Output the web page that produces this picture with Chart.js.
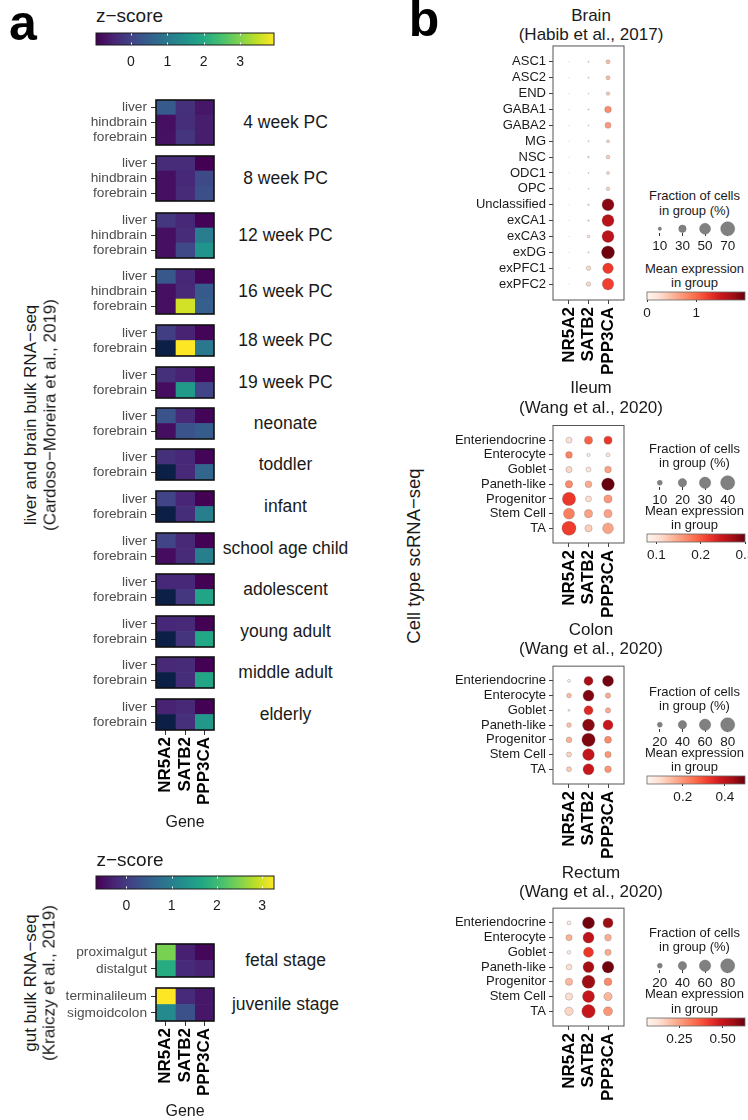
<!DOCTYPE html>
<html><head><meta charset="utf-8">
<script src="https://cdn.jsdelivr.net/npm/chart.js@4.4.1/dist/chart.umd.min.js"></script>
<style>
html,body{margin:0;padding:0;background:#fff;}
body{width:748px;height:1120px;position:relative;overflow:hidden;font-family:"Liberation Sans",Arial,Helvetica,sans-serif;}
</style></head><body>
<script>
// ---------------- DATA ----------------
const genes = ['NR5A2','SATB2','PPP3CA'];
const zTicks = [0,1,2,3];
const stages = ['4 week PC','8 week PC','12 week PC','16 week PC','18 week PC','19 week PC','neonate','toddler','infant','school age child','adolescent','young adult','middle adult','elderly'];
const rows3 = ['liver','hindbrain','forebrain'];
const rows2 = ['liver','forebrain'];
// z-scores: rows x genes (NR5A2, SATB2, PPP3CA); null = not detected
const z_4wk      = [[0.41,-0.28,-0.67],[-0.76,-0.32,-0.57],[-0.74,-0.23,-0.57]];
const z_8wk      = [[-0.35,-0.35,-0.96],[-0.76,-0.42,0.12],[-0.76,-0.37,0.21]];
const z_12wk     = [[-0.2,-0.42,-0.93],[-0.76,-0.35,1.1],[-0.76,0.1,1.55]];
const z_16wk     = [[0.38,-0.42,-0.9],[-0.76,-0.4,0.41],[-0.76,3.6,0.5]];
const z_18wk     = [[-0.08,-0.48,-0.9],[null,3.93,1.0]];
const z_19wk     = [[-0.28,-0.48,-0.92],[-0.8,1.68,0.02]];
const z_neonate  = [[0.31,-0.4,-0.9],[-0.78,0.31,0.45]];
const z_toddler  = [[-0.28,-0.42,-0.92],[null,-0.4,0.65]];
const z_infant   = [[0.02,-0.45,-0.94],[null,-0.33,1.14]];
const z_school   = [[0.02,-0.4,-0.94],[-0.8,-0.38,1.14]];
const z_adolesc  = [[-0.42,-0.42,-0.94],[null,-0.2,1.88]];
const z_young    = [[-0.42,-0.4,-0.94],[null,-0.22,1.97]];
const z_middle   = [[-0.4,-0.38,-0.94],[null,-0.33,1.93]];
const z_elderly  = [[-0.48,-0.4,-0.94],[null,-0.3,1.63]];
const zRange = [-0.96, 3.93];

const gutStages = ['fetal stage','juvenile stage'];
const gutRowsFetal = ['proximalgut','distalgut'];
const gutRowsJuv = ['terminalileum','sigmoidcolon'];
const z_fetal = [[2.47,-0.32,-0.6],[1.75,-0.2,-0.3]];
const z_juv   = [[3.26,-0.2,-0.43],[1.18,0.3,-0.43]];
const zGutRange = [-0.67, 3.26];

// scRNA-seq dot plots: [gene][cell type]
const brainCells = ['ASC1','ASC2','END','GABA1','GABA2','MG','NSC','ODC1','OPC','Unclassified','exCA1','exCA3','exDG','exPFC1','exPFC2'];
const brainFrac = [
  [0.4,0.4,0.4,0.6,0.4,0.4,0.4,0.4,0.4,0.4,0.4,0.4,0.4,0.4,0.4],
  [2.5,2.5,1.5,2.5,2,2.5,4,2,2,4,3.5,8,3,15,15],
  [13,13,11,26,22.6,9,11.5,9,11,57,57,57,63,48,54]];
const brainExpr = [
  [0.02,0.02,0.02,0.02,0.02,0.02,0.02,0.02,0.02,0.02,0.02,0.02,0.02,0.02,0.02],
  [0.05,0.05,0.03,0.05,0.04,0.05,0.1,0.04,0.04,0.08,0.08,0.2,0.06,0.3,0.3],
  [0.5,0.5,0.38,0.78,0.7,0.3,0.38,0.3,0.35,1.85,1.62,1.6,1.96,1.25,1.22]];
const brainSizeTicks = [10,30,50,70];
const brainExprRange = [0, 1.99];
const brainExprTicks = [0, 1];

const gutCells = ['Enteriendocrine','Enterocyte','Goblet','Paneth-like','Progenitor','Stem Cell','TA'];
const ileumFrac = [
  [12.9,15.0,13.8,16.8,37.4,29,40],
  [19,5.8,10.1,15.0,12.9,19,16.8],
  [19,7.5,15.0,35.1,19,19,28]];
const ileumExpr = [
  [0.105,0.172,0.114,0.167,0.22,0.176,0.216],
  [0.194,0.09,0.1,0.145,0.108,0.152,0.121],
  [0.22,0.1,0.152,0.3,0.158,0.152,0.15]];
const ileumSizeTicks = [10,20,30,40];
const ileumExprRange = [0.079, 0.3];
const ileumExprTicks = [0.1,0.2,0.3];

const colonFrac = [
  [10.3,18.7,6,18.7,24.1,20.2,20.2],
  [44.4,58,44.4,65,74.7,63,58],
  [58,21.9,21.9,51,31.7,27.6,30]];
const colonExpr = [
  [0.04,0.147,0.053,0.137,0.156,0.11,0.123],
  [0.438,0.473,0.352,0.463,0.473,0.393,0.384],
  [0.487,0.17,0.17,0.384,0.216,0.198,0.2]];
const colonSizeTicks = [20,40,60,80];
const colonExprRange = [0.03, 0.496];
const colonExprTicks = [0.2,0.4];

const rectumFrac = [
  [15,27.6,13.5,24.1,33.6,33.6,39.9],
  [65,58,51,58,72.5,65,74.7],
  [51,30,27.6,63,36,39.9,44.4]];
const rectumExpr = [
  [0.096,0.22,0.096,0.13,0.21,0.136,0.153],
  [0.62,0.516,0.425,0.556,0.567,0.5,0.5],
  [0.568,0.227,0.23,0.62,0.29,0.215,0.266]];
const rectumSizeTicks = [20,40,60,80];
const rectumExprRange = [0.062, 0.63];
const rectumExprTicks = [0.25,0.5];
const rectumExprLabels = ['0.25','0.50'];

// ---------------- COLOUR MAPS ----------------
const viridis = ['#440154','#482475','#414487','#355f8d','#2a788e','#21918c','#22a884','#44bf70','#7ad151','#bddf26','#fde725'];
const reds = ['#fff5f0','#fee0d2','#fcbba1','#fc9272','#fb6a4a','#ef3b2c','#cb181d','#a50f15','#67000d'];
const naColor = '#0c1f47';
function hx(h){return [parseInt(h.substr(1,2),16),parseInt(h.substr(3,2),16),parseInt(h.substr(5,2),16)];}
function cmap(stops,t){
  t=Math.max(0,Math.min(1,t)); const n=stops.length-1; const p=t*n; const i=Math.min(Math.floor(p),n-1); const f=p-i;
  const a=hx(stops[i]), b=hx(stops[i+1]);
  return 'rgb('+a.map((v,k)=>Math.round(v+(b[k]-v)*f)).join(',')+')';
}
function zColor(v,r){ return v===null ? naColor : cmap(viridis,(v-r[0])/(r[1]-r[0])); }
function dotR(f,fmax){ return 7*Math.pow(f/fmax,0.75); }

// ---------------- HELPERS ----------------
Chart.defaults.font.family='"Liberation Sans", Arial, Helvetica, sans-serif';
Chart.defaults.color='#1a1a1a';
const boxPlugin={id:'box',afterDatasetsDraw(chart,args,o){ if(!o||!o.color)return; const a=chart.chartArea,c=chart.ctx; c.save(); c.strokeStyle=o.color; c.lineWidth=o.width; c.strokeRect(a.left,a.top,a.right-a.left,a.bottom-a.top); c.restore(); }};
const gradPlugin={id:'grad',beforeDatasetsDraw(chart,args,o){ if(!o||!o.stops)return; const a=chart.chartArea,c=chart.ctx; c.save();
  const g=c.createLinearGradient(a.left,0,a.right,0); o.stops.forEach((s,i)=>g.addColorStop(i/(o.stops.length-1),s));
  c.fillStyle=g; c.fillRect(a.left,a.top,a.right-a.left,a.bottom-a.top);
  if(o.white){ c.strokeStyle='#fff'; c.lineWidth=1; chart.scales.x.ticks.forEach(t=>{ const x=Math.round(chart.scales.x.getPixelForValue(t.value))+0.5; c.beginPath(); c.moveTo(x,a.top); c.lineTo(x,a.top+2.5); c.moveTo(x,a.bottom); c.lineTo(x,a.bottom-2.5); c.stroke(); }); }
  if(o.border){ c.strokeStyle=o.border; c.lineWidth=o.bw||1; c.strokeRect(a.left,a.top,a.right-a.left,a.bottom-a.top); }
  c.restore(); }};
Chart.register(boxPlugin,gradPlugin);

function place(l,t,w,h){ const c=document.createElement('canvas'); c.width=w; c.height=h; c.style.cssText=`position:absolute;left:${l}px;top:${t}px;width:${w}px;height:${h}px;`; document.body.appendChild(c); return c; }
function txt(s,x,y,size,o={}){
  const d=document.createElement('div'); d.textContent=s;
  const al=o.align||'center';
  let tr = al==='center'?'translate(-50%,-50%)':(al==='left'?'translate(0,-50%)':'translate(-100%,-50%)');
  if(o.rot) tr+=' rotate(-90deg)';
  d.style.cssText=`position:absolute;left:${x}px;top:${y}px;font-size:${size}px;line-height:1;white-space:nowrap;font-weight:${o.weight||'normal'};color:${o.color||'#1a1a1a'};transform:${tr};`;
  document.body.appendChild(d);
}
const base={responsive:false,animation:false,events:[],devicePixelRatio:1};

function heatmap(top,h,rows,vals,range,showX){
  const left=40,W=180,axisW=116,padR=6,xH=showX?92:0;
  const cv=place(left,top-3,W,h+6+xH);
  new Chart(cv,{type:'bar',
    data:{labels:rows,datasets:genes.map((g,j)=>({label:g,data:rows.map(()=>1),backgroundColor:rows.map((r,i)=>zColor(vals[i][j],range)),borderWidth:0,barPercentage:1,categoryPercentage:1}))},
    options:{...base,indexAxis:'y',layout:{padding:{top:3,bottom:3,left:0,right:padR}},
      plugins:{legend:{display:false},tooltip:{enabled:false},box:{color:'#111',width:1.6}},
      scales:{
        x:{stacked:true,min:0,max:3,display:showX,
          afterBuildTicks:s=>{s.ticks=[0.5,1.5,2.5].map(v=>({value:v}));},
          afterFit:s=>{s.height=xH;s.paddingLeft=0;s.paddingRight=0;},
          ticks:{autoSkip:false,minRotation:90,maxRotation:90,padding:2,color:'#000',font:{size:17,weight:'bold'},callback:v=>genes[Math.floor(v)]},
          grid:{drawOnChartArea:false,tickLength:5,color:'#333'},border:{display:false}},
        y:{stacked:true,
          afterFit:s=>{s.width=axisW;s.paddingTop=0;s.paddingBottom=0;},
          ticks:{autoSkip:false,padding:4,color:'#4d4d4d',font:{size:13.7}},
          grid:{offset:false,drawOnChartArea:false,tickLength:5,color:'#333'},border:{display:false}}
      }}});
}

function colorbar(x0,x1,top,h,range,ticks,labels,stops,o){
  const pl=o.pl,pr=o.pr,pt=2;
  const cv=place(x0-pl,top-pt,(x1-x0)+pl+pr,pt+h+o.axisH);
  new Chart(cv,{type:'scatter',data:{datasets:[]},
    options:{...base,layout:{padding:{left:pl,right:pr,top:pt,bottom:0}},
      plugins:{legend:{display:false},tooltip:{enabled:false},grad:{stops:stops,border:o.border,bw:o.bw,white:o.white}},
      scales:{
        x:{type:'linear',min:range[0],max:range[1],
          afterBuildTicks:s=>{s.ticks=ticks.map(v=>({value:v}));},
          afterFit:s=>{s.height=o.axisH;s.paddingLeft=0;s.paddingRight=0;},
          ticks:{autoSkip:false,maxRotation:0,minRotation:0,padding:o.pad,font:{size:o.fs},color:'#1a1a1a',callback:(v,i)=>labels[i]},
          grid:{display:o.tl>0,drawOnChartArea:false,drawTicks:o.tl>0,tickLength:o.tl,color:'#333'},border:{display:false}},
        y:{display:false,min:0,max:1}
      }}});
}

function dotplot(top,h,cells,frac,expr,fmax,er){
  const left=440,W=200,axisW=113,padR=16,padT=4,xH=80;
  const cv=place(left,top-padT,W,padT+h+xH);
  const pts=[],cols=[];
  genes.forEach((g,j)=>cells.forEach((c,i)=>{ pts.push({x:j,y:i,r:dotR(frac[j][i],fmax)}); cols.push(cmap(reds,(expr[j][i]-er[0])/(er[1]-er[0]))); }));
  new Chart(cv,{type:'bubble',
    data:{datasets:[{data:pts,backgroundColor:cols,borderColor:'rgba(90,90,90,0.55)',borderWidth:0.5,clip:false}]},
    options:{...base,layout:{padding:{left:0,right:padR,top:padT,bottom:0}},
      plugins:{legend:{display:false},tooltip:{enabled:false},box:{color:'#555',width:1}},
      scales:{
        x:{type:'linear',min:-0.82,max:2.82,
          afterBuildTicks:s=>{s.ticks=genes.map((g,j)=>({value:j}));},
          afterFit:s=>{s.height=xH;s.paddingLeft=0;s.paddingRight=0;},
          ticks:{autoSkip:false,minRotation:90,maxRotation:90,padding:3,color:'#000',font:{size:17,weight:'bold'},callback:v=>genes[v]},
          grid:{drawOnChartArea:false,tickLength:4,color:'#444'},border:{display:false}},
        y:{type:'linear',reverse:true,min:-1,max:cells.length,
          afterBuildTicks:s=>{s.ticks=cells.map((c,i)=>({value:i}));},
          afterFit:s=>{s.width=axisW;s.paddingTop=0;s.paddingBottom=0;},
          ticks:{autoSkip:false,padding:3,color:'#1a1a1a',font:{size:13},callback:v=>cells[v]},
          grid:{drawOnChartArea:false,tickLength:4,color:'#444'},border:{display:false}}
      }}});
}

function sizeLegend(cy,vals,fmax){
  const cv=place(641,cy-8,107,16+22);
  new Chart(cv,{type:'bubble',
    data:{datasets:[{data:vals.map((f,i)=>({x:i,y:0.5,r:dotR(f,fmax)})),backgroundColor:'#808080',borderColor:'#6e6e6e',borderWidth:0.5,clip:false}]},
    options:{...base,layout:{padding:{left:1,right:9,top:0,bottom:0}},
      plugins:{legend:{display:false},tooltip:{enabled:false}},
      scales:{
        x:{type:'linear',min:-0.5,max:3.5,
          afterBuildTicks:s=>{s.ticks=vals.map((v,i)=>({value:i}));},
          afterFit:s=>{s.height=22;s.paddingLeft=0;s.paddingRight=0;},
          ticks:{autoSkip:false,maxRotation:0,minRotation:0,padding:2,font:{size:13.5},color:'#1a1a1a',callback:(v,i)=>String(vals[i])},
          grid:{drawOnChartArea:false,tickLength:3,color:'#333'},border:{display:false}},
        y:{display:false,min:0,max:1}
      }}});
}

// ---------------- PANEL a ----------------
txt('a',23,22.7,50,{weight:'bold',color:'#000'});
txt('z\u2212score',96,15,19,{align:'left'});
colorbar(96,274,33,12,zRange,zTicks,zTicks.map(String),viridis,{pl:10,pr:10,axisH:24,pad:9,fs:14,tl:0,white:true,border:'#1a1a1a',bw:1});

const stageZ=[z_4wk,z_8wk,z_12wk,z_16wk,z_18wk,z_19wk,z_neonate,z_toddler,z_infant,z_school,z_adolesc,z_young,z_middle,z_elderly];
const heatTops=[100,156,213,269,325,367,408,449,491,533,574,616,657,699];
stageZ.forEach((vals,k)=>{
  const rows = vals.length===3?rows3:rows2;
  const h = vals.length===3?45:31;
  heatmap(heatTops[k],h,rows,vals,zRange,k===stageZ.length-1);
  txt(stages[k],285.5,heatTops[k]+h/2,17.5);
});
txt('Gene',185,822,16);
txt('liver and brain bulk RNA\u2212seq',30,415,17,{rot:true});
txt('(Cardoso\u2212Moreira et al., 2019)',50,415,17,{rot:true});

txt('z\u2212score',96.5,858.5,19,{align:'left'});
colorbar(96,274,876,13,zGutRange,zTicks,zTicks.map(String),viridis,{pl:10,pr:10,axisH:24,pad:8.5,fs:14,tl:0,white:true,border:'#1a1a1a',bw:1});
heatmap(944,33,gutRowsFetal,z_fetal,zGutRange,false);
heatmap(988,33,gutRowsJuv,z_juv,zGutRange,true);
txt(gutStages[0],285.5,960.5,17.5);
txt(gutStages[1],285.5,1004.5,17.5);
txt('Gene',185,1111,16);
txt('gut bulk RNA\u2212seq',30,983,17,{rot:true});
txt('(Kraiczy et al., 2019)',49,983,17,{rot:true});

// ---------------- PANEL b ----------------
txt('b',424,19.2,50,{weight:'bold',color:'#000'});
txt('Cell type scRNA\u2212seq',414,556,18.5,{rot:true});

const panels=[
  {t1:'Brain',t2:'(Habib et al., 2017)',ty:[14.5,33.5],top:43,h:257,cells:brainCells,frac:brainFrac,expr:brainExpr,sz:brainSizeTicks,er:brainExprRange,et:brainExprTicks,el:brainExprTicks.map(String),ly:[195,209.5,268,282],dy:225,cb:292},
  {t1:'Ileum',t2:'(Wang et al., 2020)',ty:[387,406.5],top:422,h:121,cells:gutCells,frac:ileumFrac,expr:ileumExpr,sz:ileumSizeTicks,er:ileumExprRange,et:ileumExprTicks,el:ileumExprTicks.map(String),ly:[448,462,510,524],dy:479,cb:534},
  {t1:'Colon',t2:'(Wang et al., 2020)',ty:[628.5,648],top:663,h:121,cells:gutCells,frac:colonFrac,expr:colonExpr,sz:colonSizeTicks,er:colonExprRange,et:colonExprTicks,el:colonExprTicks.map(String),ly:[690.7,705,751.7,765.7],dy:721,cb:776},
  {t1:'Rectum',t2:'(Wang et al., 2020)',ty:[872,891],top:905,h:121,cells:gutCells,frac:rectumFrac,expr:rectumExpr,sz:rectumSizeTicks,er:rectumExprRange,et:rectumExprTicks,el:rectumExprLabels,ly:[931.7,945.7,993.3,1007.7],dy:962,cb:1018}
];
panels.forEach(p=>{
  txt(p.t1,591,p.ty[0],17);
  txt(p.t2,591,p.ty[1],17);
  const fmax=p.sz[p.sz.length-1];
  dotplot(p.top,p.h,p.cells,p.frac,p.expr,fmax,p.er);
  txt('Fraction of cells',694.5,p.ly[0],13);
  txt('in group (%)',694.5,p.ly[1],13);
  sizeLegend(p.dy,p.sz,fmax);
  txt('Mean expression',694.5,p.ly[2],13);
  txt('in group',694.5,p.ly[3],13);
  colorbar(647,745,p.cb,8,p.er,p.et,p.el,reds,{pl:7,pr:3,axisH:22,pad:3,fs:13.5,tl:2,white:false,border:'#666',bw:0.8});
});
</script>
</body></html>
